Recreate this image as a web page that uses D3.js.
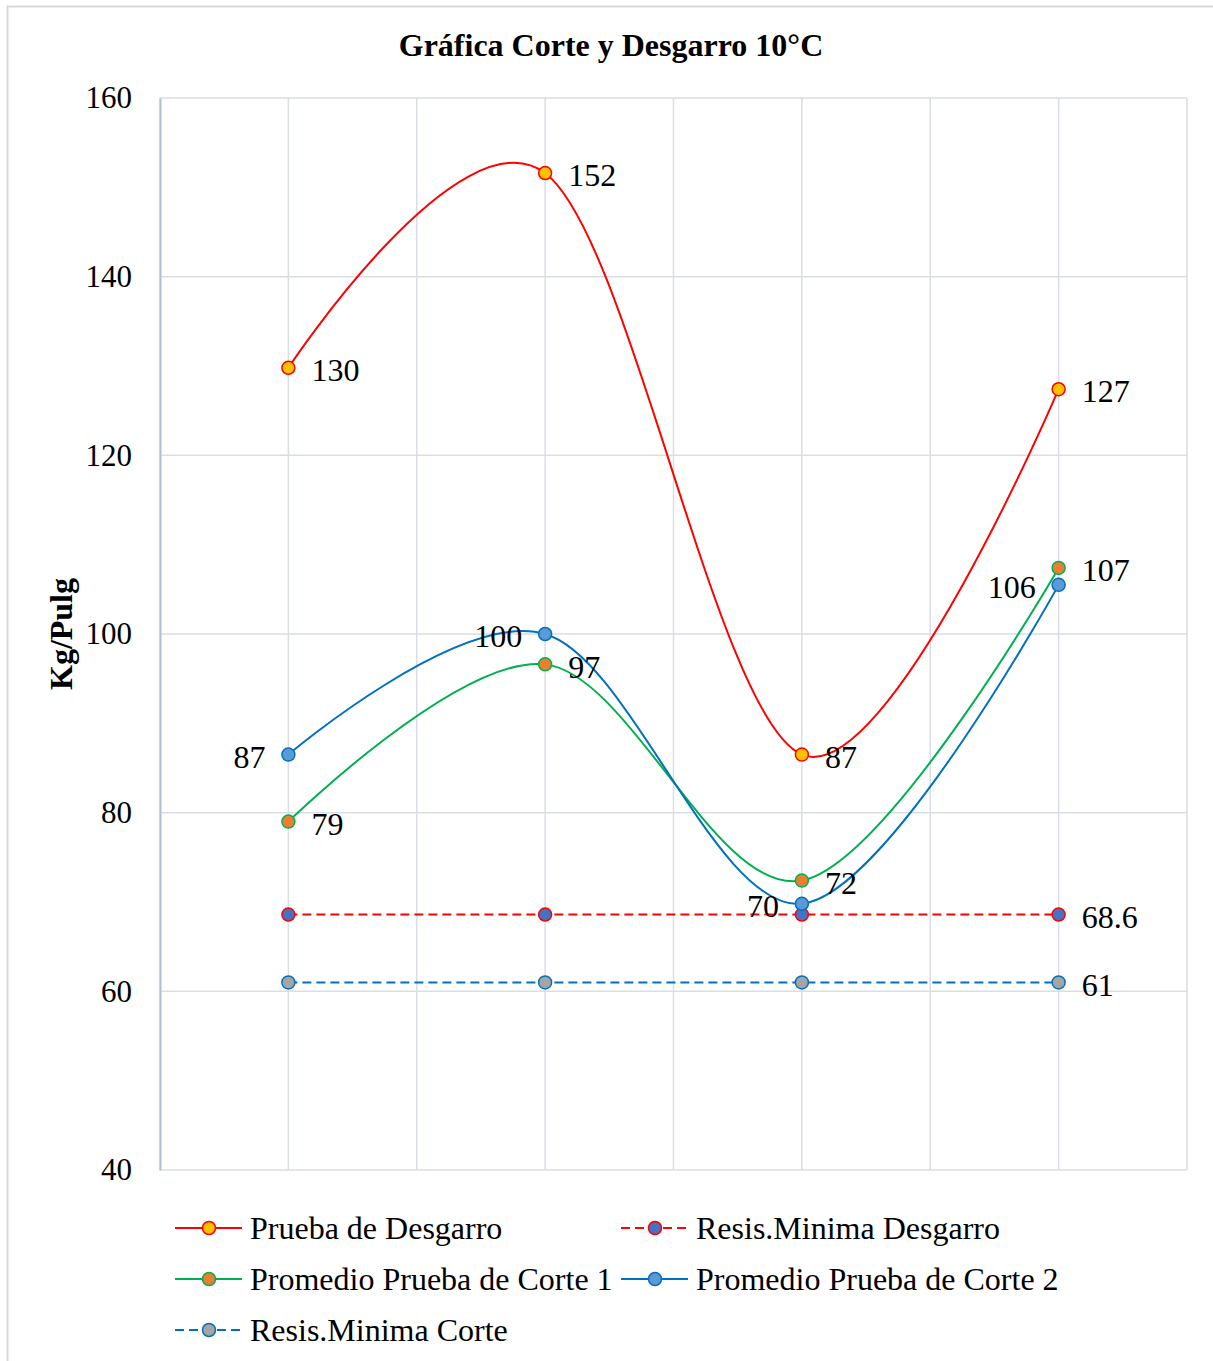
<!DOCTYPE html>
<html>
<head>
<meta charset="utf-8">
<script src="https://cdn.jsdelivr.net/npm/d3@7"></script>
<style>
  html, body { margin: 0; padding: 0; background: #fff; }
  svg { display: block; font-family: "Liberation Serif", "Times New Roman", serif; }
</style>
</head>
<body>
<svg id="chart" width="1213" height="1361"></svg>
<script>
// Test points (unlabelled on the category axis)
const categories = ["1", "2", "3", "4"];

// Series values in Kg/Pulg
const desgarro        = [129.8, 151.6, 86.5, 127.4];
const resisDesgarro   = [68.6, 68.6, 68.6, 68.6];
const corte1          = [79.0, 96.6, 72.4, 107.4];
const corte2          = [86.5, 100.0, 69.8, 105.5];
const resisCorte      = [61, 61, 61, 61];

const yTicks = [40, 60, 80, 100, 120, 140, 160];

const seriesNames = [
  "Prueba de Desgarro",
  "Resis.Minima Desgarro",
  "Promedio Prueba de Corte 1",
  "Promedio Prueba de Corte 2",
  "Resis.Minima Corte"
];

// Built from the arrays above: styling and label placement per series
const series = [
  { name: seriesNames[0], values: desgarro, line: "#ff0000", fill: "#ffc000", stroke: "#ff0000", dash: null, smooth: true,
    labels: [1, 1, 1, 1], fmt: d3.format(".0f") },
  { name: seriesNames[1], values: resisDesgarro, line: "#ff0000", fill: "#4472c4", stroke: "#ff0000", dash: "9,5", smooth: false,
    labels: [0, 0, 0, 1], fmt: d3.format("~g") },
  { name: seriesNames[2], values: corte1, line: "#00b050", fill: "#ed7d31", stroke: "#00b050", dash: null, smooth: true,
    labels: [1, 1, 1, 1], fmt: d3.format(".0f") },
  { name: seriesNames[3], values: corte2, line: "#0070c0", fill: "#5b9bd5", stroke: "#0070c0", dash: null, smooth: true,
    labels: [-1, -1, -1, -1], fmt: d3.format(".0f") },
  { name: seriesNames[4], values: resisCorte, line: "#0070c0", fill: "#a5a5a5", stroke: "#0070c0", dash: "9,5", smooth: false,
    labels: [0, 0, 0, 1], fmt: d3.format("~g") }
];

const svg = d3.select("#chart");
const FS = 32;
const plot = { left: 160, right: 1187, top: 98, bottom: 1170 };

// Chart border
svg.append("rect")
  .attr("x", 7.5).attr("y", 6.5)
  .attr("width", 1240).attr("height", 1400)
  .attr("fill", "#fff").attr("stroke", "#d9d9d9").attr("stroke-width", 2);

const x = d3.scaleBand().domain(categories).range([plot.left, plot.right]);
const cx = c => x(c) + x.bandwidth() / 2;
const y = d3.scaleLinear().domain([40, 160]).range([plot.bottom, plot.top]);

// Gridlines
const grid = svg.append("g").attr("stroke", "#d9dde6").attr("stroke-width", 1.5);
yTicks.forEach(t => {
  grid.append("line").attr("x1", plot.left).attr("x2", plot.right)
    .attr("y1", y(t)).attr("y2", y(t));
});
const vGrid = [];
categories.forEach(c => { vGrid.push(x(c)); vGrid.push(cx(c)); });
vGrid.push(plot.right);
vGrid.forEach(v => {
  grid.append("line").attr("x1", v).attr("x2", v)
    .attr("y1", plot.top).attr("y2", plot.bottom);
});

// Value axis
const yAxis = d3.axisLeft(y).tickValues(yTicks).tickSize(0).tickPadding(28);
const ya = svg.append("g").attr("transform", `translate(${plot.left},0)`).call(yAxis);
ya.select(".domain").attr("stroke", "#b4bfd1").attr("stroke-width", 2);
ya.selectAll("text")
  .attr("font-family", "Liberation Serif, Times New Roman, serif")
  .attr("font-size", 31).attr("fill", "#000");

// Title and axis title
svg.append("text")
  .attr("x", 611).attr("y", 56)
  .attr("text-anchor", "middle")
  .attr("font-size", FS).attr("font-weight", "bold")
  .text("Gráfica Corte y Desgarro 10°C");

svg.append("text")
  .attr("transform", "translate(72,634) rotate(-90)")
  .attr("text-anchor", "middle")
  .attr("font-size", FS).attr("font-weight", "bold")
  .text("Kg/Pulg");

// Series
const smoothLine = d3.line()
  .x((d, i) => cx(categories[i]))
  .y(d => y(d))
  .curve(d3.curveCardinal.tension(0));
const straightLine = d3.line()
  .x((d, i) => cx(categories[i]))
  .y(d => y(d));

series.forEach(s => {
  const g = svg.append("g");
  g.append("path")
    .attr("d", (s.smooth ? smoothLine : straightLine)(s.values))
    .attr("fill", "none")
    .attr("stroke", s.line)
    .attr("stroke-width", 2)
    .attr("stroke-dasharray", s.dash);
  g.selectAll("circle").data(s.values).join("circle")
    .attr("cx", (d, i) => cx(categories[i]))
    .attr("cy", d => y(d))
    .attr("r", 6.5)
    .attr("fill", s.fill)
    .attr("stroke", s.stroke)
    .attr("stroke-width", 1.5);
});

// Data labels
series.forEach(s => {
  s.values.forEach((v, i) => {
    const side = s.labels[i];
    if (!side) return;
    svg.append("text")
      .attr("x", cx(categories[i]) + side * 23)
      .attr("y", y(v) + 2)
      .attr("dy", "0.35em")
      .attr("text-anchor", side > 0 ? "start" : "end")
      .attr("font-size", FS)
      .text(s.fmt(v));
  });
});

// Legend
const legendPos = [
  [175, 1228], [621, 1228],
  [175, 1279], [621, 1279],
  [175, 1330]
];
series.forEach((s, i) => {
  const [lx, ly] = legendPos[i];
  const g = svg.append("g");
  g.append("line")
    .attr("x1", lx).attr("x2", lx + 67)
    .attr("y1", ly).attr("y2", ly)
    .attr("stroke", s.line).attr("stroke-width", 2)
    .attr("stroke-dasharray", s.dash);
  g.append("circle")
    .attr("cx", lx + 34).attr("cy", ly).attr("r", 6.5)
    .attr("fill", s.fill).attr("stroke", s.stroke).attr("stroke-width", 1.5);
  g.append("text")
    .attr("x", lx + 75).attr("y", ly)
    .attr("dy", "0.35em")
    .attr("font-size", FS)
    .text(s.name);
});
</script>
</body>
</html>
